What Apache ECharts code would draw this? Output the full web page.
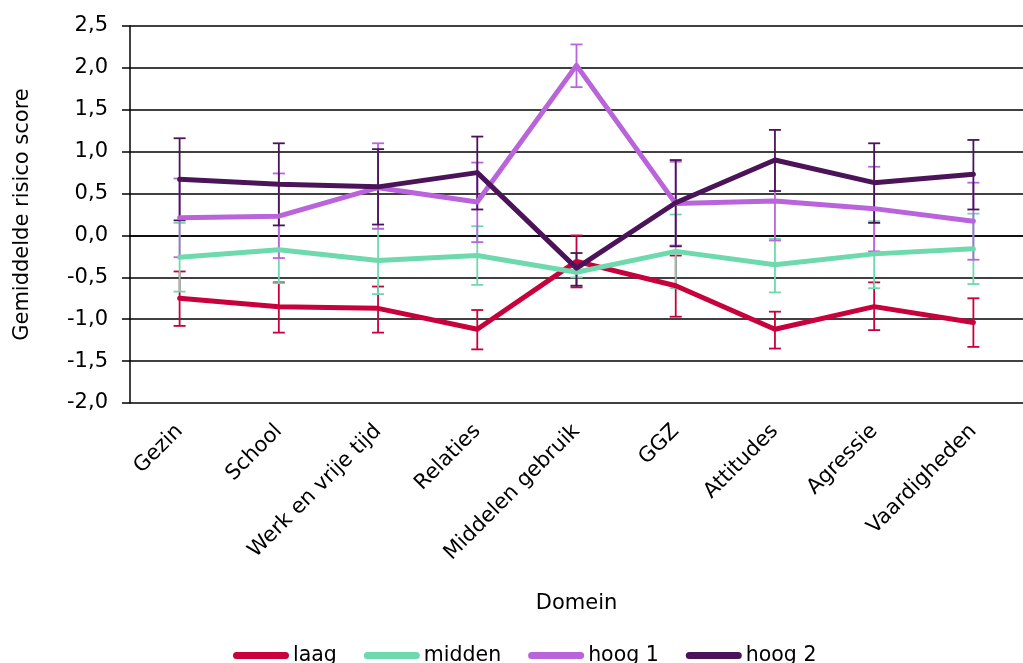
<!DOCTYPE html>
<html>
<head>
<meta charset="utf-8">
<script src="https://cdn.jsdelivr.net/npm/echarts@6/dist/echarts.min.js"></script>
<style>html,body{margin:0;padding:0;background:#fff;}#c{width:1023px;height:663px;}</style>
</head>
<body>
<div id="c"></div>
<script>
var categories = ['Gezin','School','Werk en vrije tijd','Relaties','Middelen gebruik','GGZ','Attitudes','Agressie','Vaardigheden'];
var seriesNames = ['laag','midden','hoog 1','hoog 2'];

var laag      = [-0.75,-0.85,-0.87,-1.12,-0.31,-0.60,-1.12,-0.85,-1.04];
var laagHigh  = [-0.43,-0.56,-0.61,-0.89, 0.00,-0.24,-0.91,-0.56,-0.75];
var laagLow   = [-1.08,-1.16,-1.16,-1.36,-0.62,-0.97,-1.35,-1.13,-1.33];

var midden     = [-0.26,-0.17,-0.30,-0.24,-0.44,-0.19,-0.35,-0.22,-0.16];
var middenHigh = [ 0.15, 0.23, 0.08, 0.11,-0.38, 0.25,-0.04, 0.17, 0.26];
var middenLow  = [-0.67,-0.57,-0.70,-0.59,-0.50,-0.63,-0.68,-0.63,-0.58];

var hoog1     = [ 0.21, 0.23, 0.57, 0.40, 2.03, 0.38, 0.41, 0.32, 0.17];
var hoog1High = [ 0.68, 0.74, 1.10, 0.87, 2.28, 0.88, 0.88, 0.82, 0.63];
var hoog1Low  = [-0.26,-0.27, 0.08,-0.08, 1.77,-0.12,-0.06,-0.19,-0.29];

var hoog2     = [ 0.67, 0.61, 0.58, 0.75,-0.39, 0.39, 0.90, 0.63, 0.73];
var hoog2High = [ 1.16, 1.10, 1.03, 1.18,-0.21, 0.90, 1.26, 1.10, 1.14];
var hoog2Low  = [ 0.18, 0.12, 0.13, 0.31,-0.60,-0.13, 0.53, 0.15, 0.31];

var colors = ['#C8003C', '#6ED9AC', '#B964DB', '#4B1459'];
var means = [laag, midden, hoog1, hoog2];
var highs = [laagHigh, middenHigh, hoog1High, hoog2High];
var lows  = [laagLow, middenLow, hoog1Low, hoog2Low];

var FONT = 'DejaVu Sans';
var FS = 21;
var LFS = 20.5;

function errRender(color) {
  return function (params, api) {
    var x = api.value(0);
    var top = api.coord([x, api.value(1)]);
    var bot = api.coord([x, api.value(2)]);
    var half = 6;
    var style = { stroke: color, lineWidth: 1.8, fill: null };
    return {
      type: 'group',
      children: [
        { type: 'line', shape: { x1: top[0], y1: top[1], x2: bot[0], y2: bot[1] }, style: style },
        { type: 'line', shape: { x1: top[0] - half, y1: top[1], x2: top[0] + half, y2: top[1] }, style: style },
        { type: 'line', shape: { x1: bot[0] - half, y1: bot[1], x2: bot[0] + half, y2: bot[1] }, style: style }
      ]
    };
  };
}

var series = [];
for (var s = 0; s < 4; s++) {
  series.push({
    name: seriesNames[s] + ' err',
    type: 'custom',
    renderItem: errRender(colors[s]),
    encode: { x: 0, y: [1, 2] },
    data: categories.map(function (c, i) { return [i, highs[s][i], lows[s][i]]; }),
    z: 2,
    silent: true
  });
}
for (var s2 = 0; s2 < 4; s2++) {
  series.push({
    name: seriesNames[s2],
    type: 'line',
    data: means[s2],
    showSymbol: false,
    symbol: 'none',
    lineStyle: { color: colors[s2], width: 5, cap: 'round', join: 'round' },
    itemStyle: { color: colors[s2] },
    z: 3,
    animation: false
  });
}

var pill = 'path://M3.5,0 L52.5,0 A3.5,3.5 0 0 1 52.5,7 L3.5,7 A3.5,3.5 0 0 1 3.5,0 Z';

var chart = echarts.init(document.getElementById('c'), null, { renderer: 'canvas' });
chart.setOption({
  animation: false,
  backgroundColor: '#fff',
  textStyle: { fontFamily: FONT },
  grid: { left: 130, top: 26, bottom: 260, right: -13 },
  legend: {
    data: seriesNames.map(function (n, i) { return { name: n, icon: pill, itemStyle: { color: colors[i] } }; }),
    left: 228,
    top: 640,
    itemWidth: 56,
    itemHeight: 7,
    itemGap: 27,
    textStyle: { fontSize: LFS, color: '#000', fontFamily: FONT, padding: [0, 0, 0, -1] }
  },
  xAxis: {
    type: 'category',
    data: categories,
    boundaryGap: true,
    name: 'Domein',
    nameLocation: 'middle',
    nameGap: 190,
    nameTextStyle: { fontSize: FS, color: '#000', fontFamily: FONT },
    axisLine: { show: true, lineStyle: { color: '#000', width: 1.5 } },
    axisTick: { show: false },
    axisLabel: { rotate: 45, interval: 0, fontSize: FS, color: '#000', fontFamily: FONT, margin: 25 },
    splitLine: { show: false }
  },
  yAxis: {
    type: 'value',
    min: -2,
    max: 2.5,
    interval: 0.5,
    name: 'Gemiddelde risico score',
    nameLocation: 'middle',
    nameGap: 97,
    nameTextStyle: { fontSize: FS, color: '#000', fontFamily: FONT },
    axisLine: { show: true, lineStyle: { color: '#000', width: 1.5 } },
    axisTick: { show: true, length: 8, inside: false, lineStyle: { color: '#000', width: 1.5 } },
    axisLabel: {
      fontSize: FS, color: '#000', fontFamily: FONT, margin: 22,
      formatter: function (v) { return v.toFixed(1).replace('.', ','); }
    },
    splitLine: { show: true, lineStyle: { color: '#000', width: 1.5 } }
  },
  series: series
});
</script>
</body>
</html>
